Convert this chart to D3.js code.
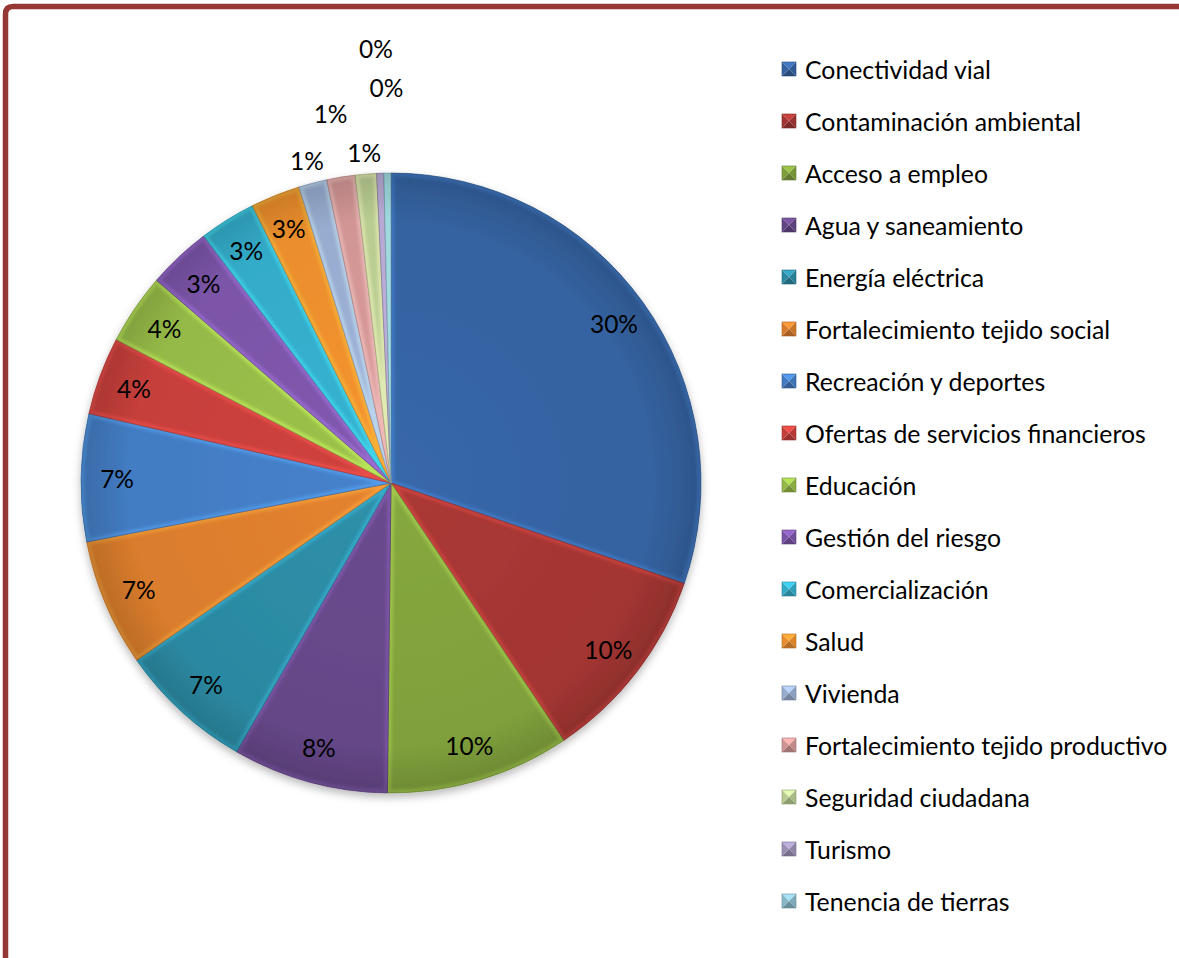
<!DOCTYPE html>
<html><head><meta charset="utf-8">
<script src="https://cdn.jsdelivr.net/npm/d3@7"></script>
<style>
body{margin:0;background:#fff;overflow:hidden;}
svg{display:block;font-family:Lato,"Open Sans",sans-serif;}
</style>
</head><body>
<svg id="c" width="1179" height="958"></svg>
<script>
// ---- data ----
const categories = [
  "Conectividad vial","Contaminación ambiental","Acceso a empleo","Agua y saneamiento",
  "Energía eléctrica","Fortalecimiento tejido social","Recreación y deportes",
  "Ofertas de servicios financieros","Educación","Gestión del riesgo","Comercialización",
  "Salud","Vivienda","Fortalecimiento tejido productivo","Seguridad ciudadana","Turismo",
  "Tenencia de tierras"
];
const counts = [82,28,26,22,19,18,18,11,10,9,8,7,4,4,3,1,1];
const colors = [
  "#3767a8","#ab3835","#86a83f","#6a4a8e","#2e90aa","#e5832f",
  "#4682cc","#d0423e","#9dc34b","#8159b0","#36b4d3","#f7952f",
  "#9fb5da","#dc9d9c","#c2d698","#a397bd","#8ec2d2"
];
// layout for labels placed outside the smallest slices (distance from centre)
const outsideLabelRadius = [333,374,332,435,396];

// ---- layout ----
const svg = d3.select("#c");
const cx = 391, cy = 483, R = 310;
const total = d3.sum(counts);
const data = categories.map((c,i)=>({name:c, value:counts[i], color:colors[i], i}));

const defs = svg.append("defs");
const shadow = defs.append("filter").attr("id","shadow").attr("x","-20%").attr("y","-20%").attr("width","140%").attr("height","140%");
shadow.append("feDropShadow").attr("dx",0).attr("dy",4).attr("stdDeviation",4).attr("flood-color","#000").attr("flood-opacity",0.28);
const blur = defs.append("filter").attr("id","blur");
blur.append("feGaussianBlur").attr("stdDeviation",1.8);

// border (only top and left sides are inside the picture)
svg.append("path").attr("d","M5.5,1000V14Q5.5,6.5 13,6.5H1300")
  .attr("fill","none").attr("stroke","#953735").attr("stroke-width",5.5);

const pie = d3.pie().value(d=>d.value).sort(null).startAngle(0).endAngle(2*Math.PI);
const arcs = pie(data);
const arc = d3.arc().innerRadius(0).outerRadius(R);

const g = svg.append("g").attr("transform",`translate(${cx},${cy})`);
const pieG = g.append("g").attr("filter","url(#shadow)");
arcs.forEach((d,k)=>{
  defs.append("clipPath").attr("id","clip"+k).append("path").attr("d",arc(d));
});
const sl = pieG.selectAll("g.slice").data(arcs).join("g").attr("class","slice");
sl.append("path").attr("d",arc).attr("fill",d=>d.data.color);
// bevel: light inner edge
sl.append("path").attr("d",arc).attr("fill","none")
  .attr("stroke",d=>d3.color(d.data.color).brighter(0.8))
  .attr("stroke-width",7).attr("stroke-opacity",0.55)
  .attr("clip-path",(d,k)=>`url(#clip${k})`).attr("filter","url(#blur)");
// darker rim shading
const rg = defs.append("radialGradient").attr("id","rim").attr("gradientUnits","userSpaceOnUse")
  .attr("cx",0).attr("cy",0).attr("r",R);
rg.append("stop").attr("offset","0%").attr("stop-color","#000").attr("stop-opacity",0);
rg.append("stop").attr("offset","85%").attr("stop-color","#000").attr("stop-opacity",0.05);
rg.append("stop").attr("offset","100%").attr("stop-color","#000").attr("stop-opacity",0.18);
pieG.append("circle").attr("r",R).attr("fill","url(#rim)");
sl.append("path").attr("d",arc).attr("fill","none")
  .attr("stroke",d=>d3.color(d.data.color).darker(0.6)).attr("stroke-width",0.8).attr("stroke-opacity",0.8);

// labels
const labelArc = d3.arc().innerRadius(274).outerRadius(274);
let outIdx = 0;
arcs.forEach(d=>{
  const share = d.data.value/total;
  let x,y;
  if (share < 0.02) {
    const r = outsideLabelRadius[outIdx++];
    const a = (d.startAngle+d.endAngle)/2;
    x = Math.sin(a)*r; y = -Math.cos(a)*r;
  } else {
    [x,y] = labelArc.centroid(d);
  }
  g.append("text").attr("x",x).attr("y",y).attr("text-anchor","middle")
    .attr("dominant-baseline","central").attr("font-size",24.5).attr("fill","#000")
    .text(Math.round(share*100)+"%");
});

// legend
const lg = svg.append("g").attr("transform","translate(782,69)");
const items = lg.selectAll("g").data(data).join("g").attr("transform",(d,i)=>`translate(0,${i*52})`);
const s = 14, h = s/2;
items.each(function(d){
  const it = d3.select(this);
  const c = d3.color(d.color).darker(0.35);
  const tri = [
    [[-h,-h],[h,-h],[0,0], c.brighter(0.8)],
    [[h,-h],[h,h],[0,0], c],
    [[h,h],[-h,h],[0,0], c.darker(0.5)],
    [[-h,h],[-h,-h],[0,0], c.brighter(0.2)]
  ];
  tri.forEach(t=>{
    it.append("path").attr("d",`M${t[0][0]+h},${t[0][1]}L${t[1][0]+h},${t[1][1]}L${t[2][0]+h},${t[2][1]}Z`).attr("fill",t[3]);
  });
  it.append("rect").attr("x",0).attr("y",-h).attr("width",s).attr("height",s)
    .attr("fill","none").attr("stroke",c.darker(0.6)).attr("stroke-width",0.6);
  it.append("text").attr("x",23).attr("y",0).attr("dominant-baseline","central")
    .attr("font-size",24.8).attr("fill","#000").text(d.name);
});
</script>
</body></html>
